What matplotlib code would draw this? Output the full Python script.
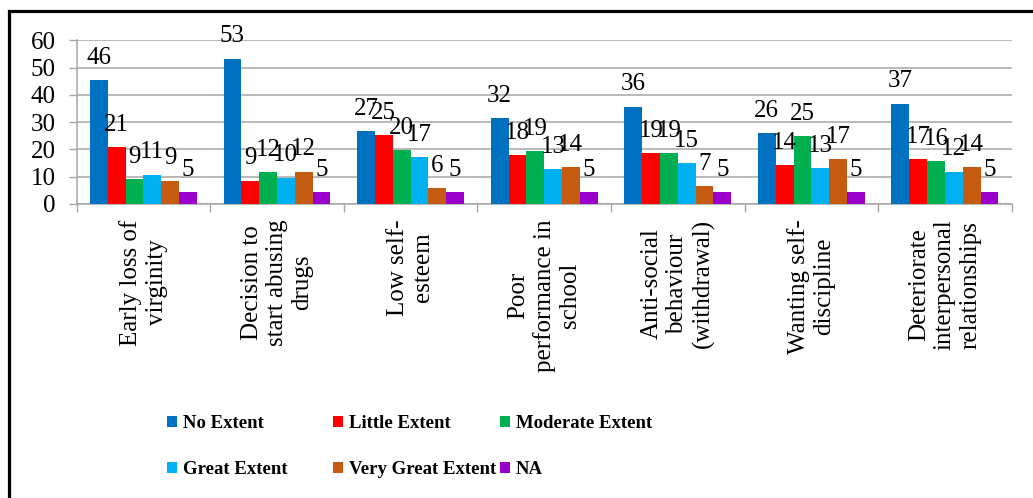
import numpy as np
import matplotlib.pyplot as plt
from matplotlib.patches import Rectangle, Patch

# data
categories = ['Early loss of\nvirginity', 'Decision to\nstart abusing\ndrugs', 'Low self-\nesteem',
              'Poor\nperformance in\nschool', 'Anti-social\nbehaviour\n(withdrawal)',
              'Wanting self-\ndiscipline', 'Deteriorate\ninterpersonal\nrelationships']
series_names = ['No Extent', 'Little Extent', 'Moderate Extent', 'Great Extent', 'Very Great Extent', 'NA']
no_extent = [45.5, 53.3, 26.8, 31.6, 35.7, 25.9, 36.8]
little_extent = [20.9, 8.6, 25.3, 17.8, 18.6, 14.3, 16.5]
moderate_extent = [9.2, 11.6, 19.8, 19.4, 18.8, 24.8, 15.8]
great_extent = [10.8, 9.7, 17.1, 12.8, 15.0, 13.1, 11.9]
very_great_extent = [8.6, 11.9, 6.0, 13.6, 6.6, 16.5, 13.6]
na = [4.5, 4.5, 4.5, 4.5, 4.5, 4.5, 4.5]
colors = ['#0070C0', '#FF0000', '#00B050', '#00B0F0', '#C55A11', '#9900CC']

series = [no_extent, little_extent, moderate_extent, great_extent, very_great_extent, na]

plt.rcParams['font.family'] = ['Liberation Serif', 'DejaVu Serif']

fig = plt.figure(figsize=(10.33, 4.98), dpi=100)
ax = fig.add_axes([0.0741, 0.5904, 0.9053, 0.3287])

x = np.arange(len(categories))
w = 0.1333
grid_col = '#A6A6A6'

for j, vals in enumerate(series):
    pos = x + (j - 2.5) * w
    ax.bar(pos, vals, width=w, color=colors[j], zorder=3)
    for px, v in zip(pos, vals):
        ax.annotate(str(int(v + 0.5)), (px, v), xytext=(0, 8), textcoords='offset points',
                    ha='center', va='bottom', fontsize=18, zorder=5)

ax.set_xlim(-0.5, len(categories) - 0.5)
ax.set_ylim(0, 60)
ax.set_yticks(range(0, 61, 10))
ax.yaxis.grid(True, color=grid_col, linewidth=1.1, zorder=0)
ax.tick_params(axis='y', length=6, width=1, color=grid_col, labelsize=18, pad=9)

ax.set_xticks(x)
ax.set_xticklabels(categories, rotation=90, fontsize=18)
for lab in ax.get_xticklabels():
    lab.set_multialignment('center')
ax.set_xticks(np.arange(-0.5, len(categories)), minor=True)
ax.tick_params(axis='x', which='major', length=0, pad=11)
ax.tick_params(axis='x', which='minor', length=6, width=1, color=grid_col)

for s in ['top', 'right']:
    ax.spines[s].set_visible(False)
for s in ['left', 'bottom']:
    ax.spines[s].set_color(grid_col)
    ax.spines[s].set_linewidth(1.1)

# legend: three columns laid out like the spreadsheet legend
handles = [Patch(facecolor=c) for c in colors]
col_x = [167, 333, 500]
for k in range(3):
    leg = fig.legend([handles[k], handles[k + 3]], [series_names[k], series_names[k + 3]],
                     loc='upper left', bbox_to_anchor=(col_x[k] / 1033, 1 - 415 / 498),
                     frameon=False, borderpad=0, borderaxespad=0, handlelength=0.55,
                     handleheight=0.55, handletextpad=0.3, labelspacing=1.55,
                     prop={'weight': 'bold', 'size': 13.5})

# outer frame
fig.patches.append(Rectangle((8.5 / 1033, -0.2), 1.5, 1.2 - 11 / 498, transform=fig.transFigure,
                             fill=False, edgecolor='black', linewidth=2.3, zorder=10))

fig.savefig('out.png', dpi=100)
